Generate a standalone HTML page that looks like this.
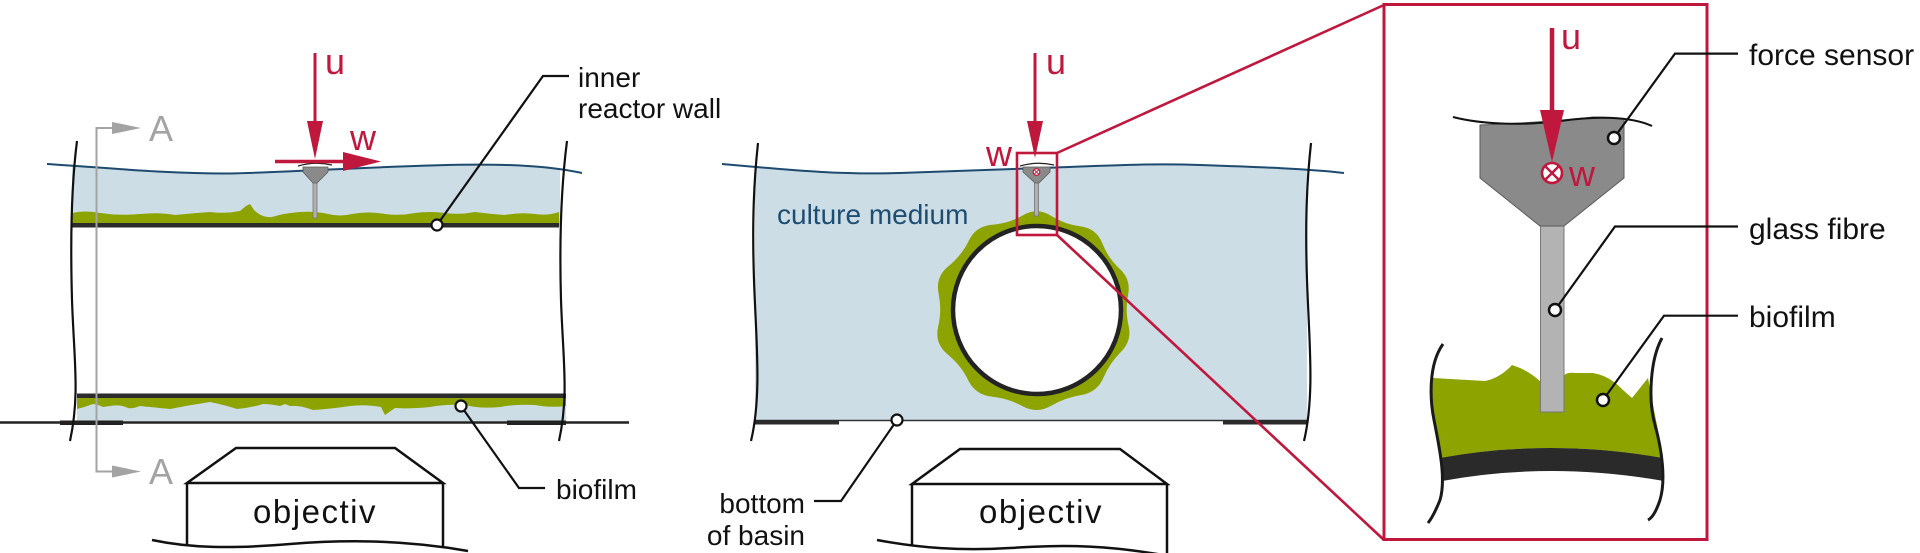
<!DOCTYPE html>
<html>
<head>
<meta charset="utf-8">
<style>
  html,body{margin:0;padding:0;background:#fff;}
  svg{display:block;}
  text{font-family:"Liberation Sans", Arial, sans-serif;}
</style>
</head>
<body>
<svg width="1920" height="553" viewBox="0 0 1920 553" xmlns="http://www.w3.org/2000/svg">
  <defs>
    <clipPath id="clipL"><rect x="72" y="100" width="488" height="140"/></clipPath>
    <clipPath id="clipM"><rect x="755" y="100" width="552" height="330"/></clipPath>
  </defs>
  <rect width="1920" height="553" fill="#ffffff"/>

  <!-- ================= LEFT PANEL ================= -->
  <path clip-path="url(#clipL)" d="M 47 164 C 110 168, 170 174, 230 173.5 C 300 172, 380 166, 459 164.7 C 510 164, 550 166, 582 173 L 582 226 L 47 226 Z" fill="#cddde6"/>
  <path d="M 72 224 L 72 213 Q 85 210 100 213 Q 120 216 140 214 Q 160 212 175 215 Q 195 213 210 212 Q 225 214 240 211 L 246 206 L 250 204 L 254 210 Q 262 218 272 217 Q 285 213 300 212 Q 315 211 328 214 Q 340 217 352 214 Q 368 211 385 214 Q 400 216 415 213 Q 430 211 445 213 Q 460 215 475 212 Q 490 214 505 215 Q 520 212 535 214 Q 548 216 559 212 L 559 224 Z" fill="#8ca300"/>
  <rect x="71" y="223" width="488" height="4.5" fill="#2b2b2b"/>

  <rect x="77" y="398" width="489" height="23" fill="#cddde6"/>
  <path d="M 77 398 L 566 398 L 566 406 Q 550 408 535 405 Q 515 404 500 407 Q 480 409 465 405 Q 445 404 430 407 Q 410 409 395 408 L 385 415 L 381 407 Q 365 404 350 406 Q 330 409 313 410 Q 300 405 290 406 L 285 404 L 280 406 Q 270 404 263 404 Q 250 408 237 409 Q 225 405 210 402 Q 190 405 170 409 Q 150 407 140 406 Q 132 409 128 408 Q 120 404 110 406 L 103 407 Q 97 404 93 404 Q 85 407 77 409 Z" fill="#8ca300"/>
  <rect x="77" y="393.5" width="489" height="4.5" fill="#2b2b2b"/>

  <line x1="0" y1="422.5" x2="629" y2="422.5" stroke="#222" stroke-width="2.5"/>
  <rect x="60" y="420.5" width="63" height="4.5" fill="#222"/>
  <rect x="507" y="420.5" width="59" height="4.5" fill="#222"/>

  <path d="M 47 164 C 110 168, 170 174, 230 173.5 C 300 172, 380 166, 459 164.7 C 510 164, 550 166, 582 173" fill="none" stroke="#1d4a6e" stroke-width="2"/>

  <path d="M 77 141 C 72 180, 70 230, 72 300 C 74 360, 80 395, 70 441" fill="none" stroke="#111" stroke-width="2.2"/>
  <path d="M 567 141 C 562 180, 559 230, 561 300 C 563 360, 569 395, 559 441" fill="none" stroke="#111" stroke-width="2.2"/>

  <polyline points="115,128 96.5,128 96.5,471.5 115,471.5" fill="none" stroke="#a3a3a3" stroke-width="2"/>
  <polygon points="112,122 141,128 112,134" fill="#a3a3a3"/>
  <polygon points="112,465.5 141,471.5 112,477.5" fill="#a3a3a3"/>
  <text x="149" y="141" font-size="36" fill="#a3a3a3">A</text>
  <text x="149" y="484" font-size="36" fill="#a3a3a3">A</text>

  <path d="M 298 166 Q 315 161 332 165" fill="none" stroke="#222" stroke-width="1.3"/>
  <rect x="313" y="182" width="4" height="36" fill="#b0b0b0" stroke="#777" stroke-width="0.8"/>
  <polygon points="303,167 328,167 328,172 317,183 313,183 303,172" fill="#8a8a8a" stroke="#5a5a5a" stroke-width="0.8"/>

  <line x1="315" y1="53" x2="315" y2="125" stroke="#c0173d" stroke-width="3"/>
  <polygon points="307,121 323,121 315,159" fill="#c0173d"/>
  <line x1="275" y1="161.5" x2="346" y2="161.5" stroke="#c0173d" stroke-width="3.5"/>
  <polygon points="343,152 381,161.5 343,171" fill="#c0173d"/>
  <text x="325" y="74" font-size="36" fill="#c0173d">u</text>
  <text x="350" y="150" font-size="36" fill="#c0173d">w</text>

  <polyline points="437,225 543,76 569,76" fill="none" stroke="#111" stroke-width="2.2"/>
  <circle cx="437" cy="225" r="5.5" fill="#fff" stroke="#111" stroke-width="2.2"/>
  <text x="578" y="87" font-size="28" fill="#111">inner</text>
  <text x="578" y="118" font-size="28" fill="#111">reactor wall</text>

  <polyline points="461,406 519,488 545,488" fill="none" stroke="#111" stroke-width="2.2"/>
  <circle cx="461" cy="406" r="5.5" fill="#fff" stroke="#111" stroke-width="2.2"/>
  <text x="556" y="499" font-size="28" fill="#111">biofilm</text>

  <polygon points="236,448 395,448 443,483 187,483" fill="#fff" stroke="#111" stroke-width="2.5"/>
  <line x1="187" y1="483" x2="187" y2="546" stroke="#111" stroke-width="2.5"/>
  <line x1="443" y1="483" x2="443" y2="547" stroke="#111" stroke-width="2.5"/>
  <path d="M 152 540 C 190 548, 230 549, 290 544 C 340 540, 400 539, 468 551" fill="none" stroke="#111" stroke-width="2.5"/>
  <text x="315" y="523" font-size="33" fill="#111" text-anchor="middle" letter-spacing="1.5">objectiv</text>

  <!-- ================= MIDDLE PANEL ================= -->
  <path clip-path="url(#clipM)" d="M 722 164 C 790 170, 840 175, 900 173 C 960 171, 1000 169, 1040 168 C 1100 166, 1150 163, 1200 165 C 1260 167, 1310 169, 1344 173 L 1344 420.5 L 722 420.5 Z" fill="#cddde6"/>

  <path d="M 1128.1 294.7 Q 1125 310 1128.55 325.45 Q 1132.1 340.9 1120.95 351.9 Q 1109.8 362.9 1103.4 377.7 Q 1097 392.5 1081.2 395 Q 1065.4 397.5 1051.2 405.75 Q 1037 414 1022.65 406.2 Q 1008.3 398.4 991.8 396.65 Q 975.3 394.9 968.15 380.1 Q 961 365.3 947.65 354.35 Q 934.3 343.4 938.15 326.7 Q 942 310 938.6 293.45 Q 935.2 276.9 948.5 266.1 Q 961.8 255.3 968.8 240.6 Q 975.8 225.9 992.35 224.7 Q 1008.9 223.5 1022.95 215.25 Q 1037 207 1050.9 215.7 Q 1064.8 224.4 1080.6 226.35 Q 1096.4 228.3 1102.3 243.3 Q 1108.2 258.3 1119.7 268.85 Q 1131.2 279.4 1128.1 294.7 Z" fill="#8ca300"/>
  <circle cx="1037" cy="310" r="84" fill="#fff" stroke="#232323" stroke-width="4.5"/>

  <line x1="754" y1="420.5" x2="1308" y2="420.5" stroke="#333" stroke-width="1.6"/>
  <rect x="754" y="420" width="85" height="4.5" fill="#2b2b2b"/>
  <rect x="1223" y="420" width="85" height="4.5" fill="#2b2b2b"/>

  <path d="M 722 164 C 790 170, 840 175, 900 173 C 960 171, 1000 169, 1040 168 C 1100 166, 1150 163, 1200 165 C 1260 167, 1310 169, 1344 173" fill="none" stroke="#1d4a6e" stroke-width="2"/>

  <path d="M 758 143 C 754 180, 752 220, 754 280 C 756 340, 762 395, 751 441" fill="none" stroke="#111" stroke-width="2.2"/>
  <path d="M 1311 143 C 1307 180, 1305 220, 1307 280 C 1309 340, 1315 395, 1304 441" fill="none" stroke="#111" stroke-width="2.2"/>

  <text x="777" y="224" font-size="28" fill="#1e4d72">culture medium</text>

  <path d="M 1020 166 Q 1037 161 1054 165" fill="none" stroke="#222" stroke-width="1.3"/>
  <rect x="1034.5" y="182" width="4" height="34" fill="#b0b0b0" stroke="#777" stroke-width="0.8"/>
  <polygon points="1023,167 1050,167 1050,172 1039,183 1035,183 1023,172" fill="#8a8a8a" stroke="#5a5a5a" stroke-width="0.8"/>
  <circle cx="1036.5" cy="172" r="3.3" fill="#fff" stroke="#c0173d" stroke-width="1.2"/>
  <path d="M 1034.3 169.8 L 1038.7 174.2 M 1038.7 169.8 L 1034.3 174.2" stroke="#c0173d" stroke-width="1"/>

  <rect x="1017" y="153" width="40" height="82" fill="none" stroke="#c0173d" stroke-width="2.6"/>
  <line x1="1057" y1="153" x2="1384" y2="5" stroke="#c0173d" stroke-width="2.6"/>
  <line x1="1057" y1="235" x2="1384" y2="540" stroke="#c0173d" stroke-width="2.6"/>

  <line x1="1035" y1="53" x2="1035" y2="125" stroke="#c0173d" stroke-width="3"/>
  <polygon points="1027,121 1043,121 1035,158" fill="#c0173d"/>
  <text x="1046" y="74" font-size="36" fill="#c0173d">u</text>
  <text x="986" y="166" font-size="36" fill="#c0173d">w</text>

  <polyline points="897,420 841,501 814,501" fill="none" stroke="#111" stroke-width="2.2"/>
  <circle cx="897" cy="420" r="5.5" fill="#fff" stroke="#111" stroke-width="2.2"/>
  <text x="805" y="513" font-size="28" fill="#111" text-anchor="end">bottom</text>
  <text x="805" y="545" font-size="28" fill="#111" text-anchor="end">of basin</text>

  <polygon points="960,449 1120,449 1167,484 912,484" fill="#fff" stroke="#111" stroke-width="2.5"/>
  <line x1="912" y1="484" x2="912" y2="545" stroke="#111" stroke-width="2.5"/>
  <line x1="1167" y1="484" x2="1167" y2="553" stroke="#111" stroke-width="2.5"/>
  <path d="M 877 540 C 920 548, 960 551, 1010 548 C 1060 545, 1110 543, 1194 561" fill="none" stroke="#111" stroke-width="2.5"/>
  <text x="1041" y="523" font-size="33" fill="#111" text-anchor="middle" letter-spacing="1.5">objectiv</text>

  <!-- ================= RIGHT PANEL ================= -->
  <rect x="1384" y="4.5" width="323" height="535" fill="none" stroke="#c0173d" stroke-width="3"/>

  <path d="M 1433 378 L 1485 381 Q 1500 378 1512 365 L 1520 368 Q 1530 372 1541 382 L 1541 412 L 1564 412 L 1564 376 Q 1566 372 1575 373 L 1593 373 Q 1610 376 1623 390 L 1632 398 L 1648 378 L 1652 400 L 1658 430 L 1662 458 Q 1550 438 1441 458 L 1434 420 L 1432 395 Z" fill="#8ca300"/>
  <path d="M 1440 458 Q 1550 438 1663 458 L 1664 481 Q 1550 461 1442 481 Z" fill="#2a2a2a"/>
  <path d="M 1443 344 C 1428 365, 1430 400, 1434 420 C 1440 450, 1446 480, 1440 500 C 1436 510, 1432 518, 1428 523" fill="none" stroke="#1a1a1a" stroke-width="3"/>
  <path d="M 1662 338 C 1650 360, 1648 400, 1655 425 C 1662 450, 1666 480, 1660 500 C 1656 512, 1652 518, 1648 520" fill="none" stroke="#1a1a1a" stroke-width="3"/>

  <rect x="1540.5" y="226" width="23.5" height="186" fill="#b3b3b3" stroke="#777" stroke-width="1"/>
  <path d="M 1480 125 Q 1550 122 1593 117 Q 1610 117 1624 119 L 1624 178 L 1564 226 L 1540 226 L 1480 178 Z" fill="#8a8a8a" stroke="#5a5a5a" stroke-width="1"/>
  <path d="M 1453 117 C 1480 124, 1520 126, 1560 121 C 1595 116, 1630 116, 1652 126" fill="none" stroke="#111" stroke-width="2"/>

  <line x1="1552" y1="28" x2="1552" y2="115" stroke="#c0173d" stroke-width="4.5"/>
  <polygon points="1540,110 1564,110 1552,162" fill="#c0173d"/>
  <text x="1561" y="49" font-size="36" fill="#c0173d">u</text>
  <circle cx="1552" cy="173" r="10" fill="#fff" stroke="#c0173d" stroke-width="2.6"/>
  <path d="M 1545.5 166.5 L 1558.5 179.5 M 1558.5 166.5 L 1545.5 179.5" stroke="#c0173d" stroke-width="2.4"/>
  <text x="1569" y="186" font-size="36" fill="#c0173d">w</text>

  <polyline points="1614,138 1675,53.6 1738,53.6" fill="none" stroke="#111" stroke-width="2.2"/>
  <circle cx="1614" cy="138" r="6" fill="#fff" stroke="#111" stroke-width="2.5"/>
  <polyline points="1555,310 1615,226.5 1738,226.5" fill="none" stroke="#111" stroke-width="2.2"/>
  <circle cx="1555" cy="310" r="6" fill="#fff" stroke="#111" stroke-width="2.5"/>
  <polyline points="1603,400 1664,315.7 1738,315.7" fill="none" stroke="#111" stroke-width="2.2"/>
  <circle cx="1603" cy="400" r="6" fill="#fff" stroke="#111" stroke-width="2.5"/>

  <text x="1749" y="65" font-size="30" fill="#111">force sensor</text>
  <text x="1749" y="239" font-size="30" fill="#111">glass fibre</text>
  <text x="1749" y="327" font-size="30" fill="#111">biofilm</text>
</svg>
</body>
</html>
